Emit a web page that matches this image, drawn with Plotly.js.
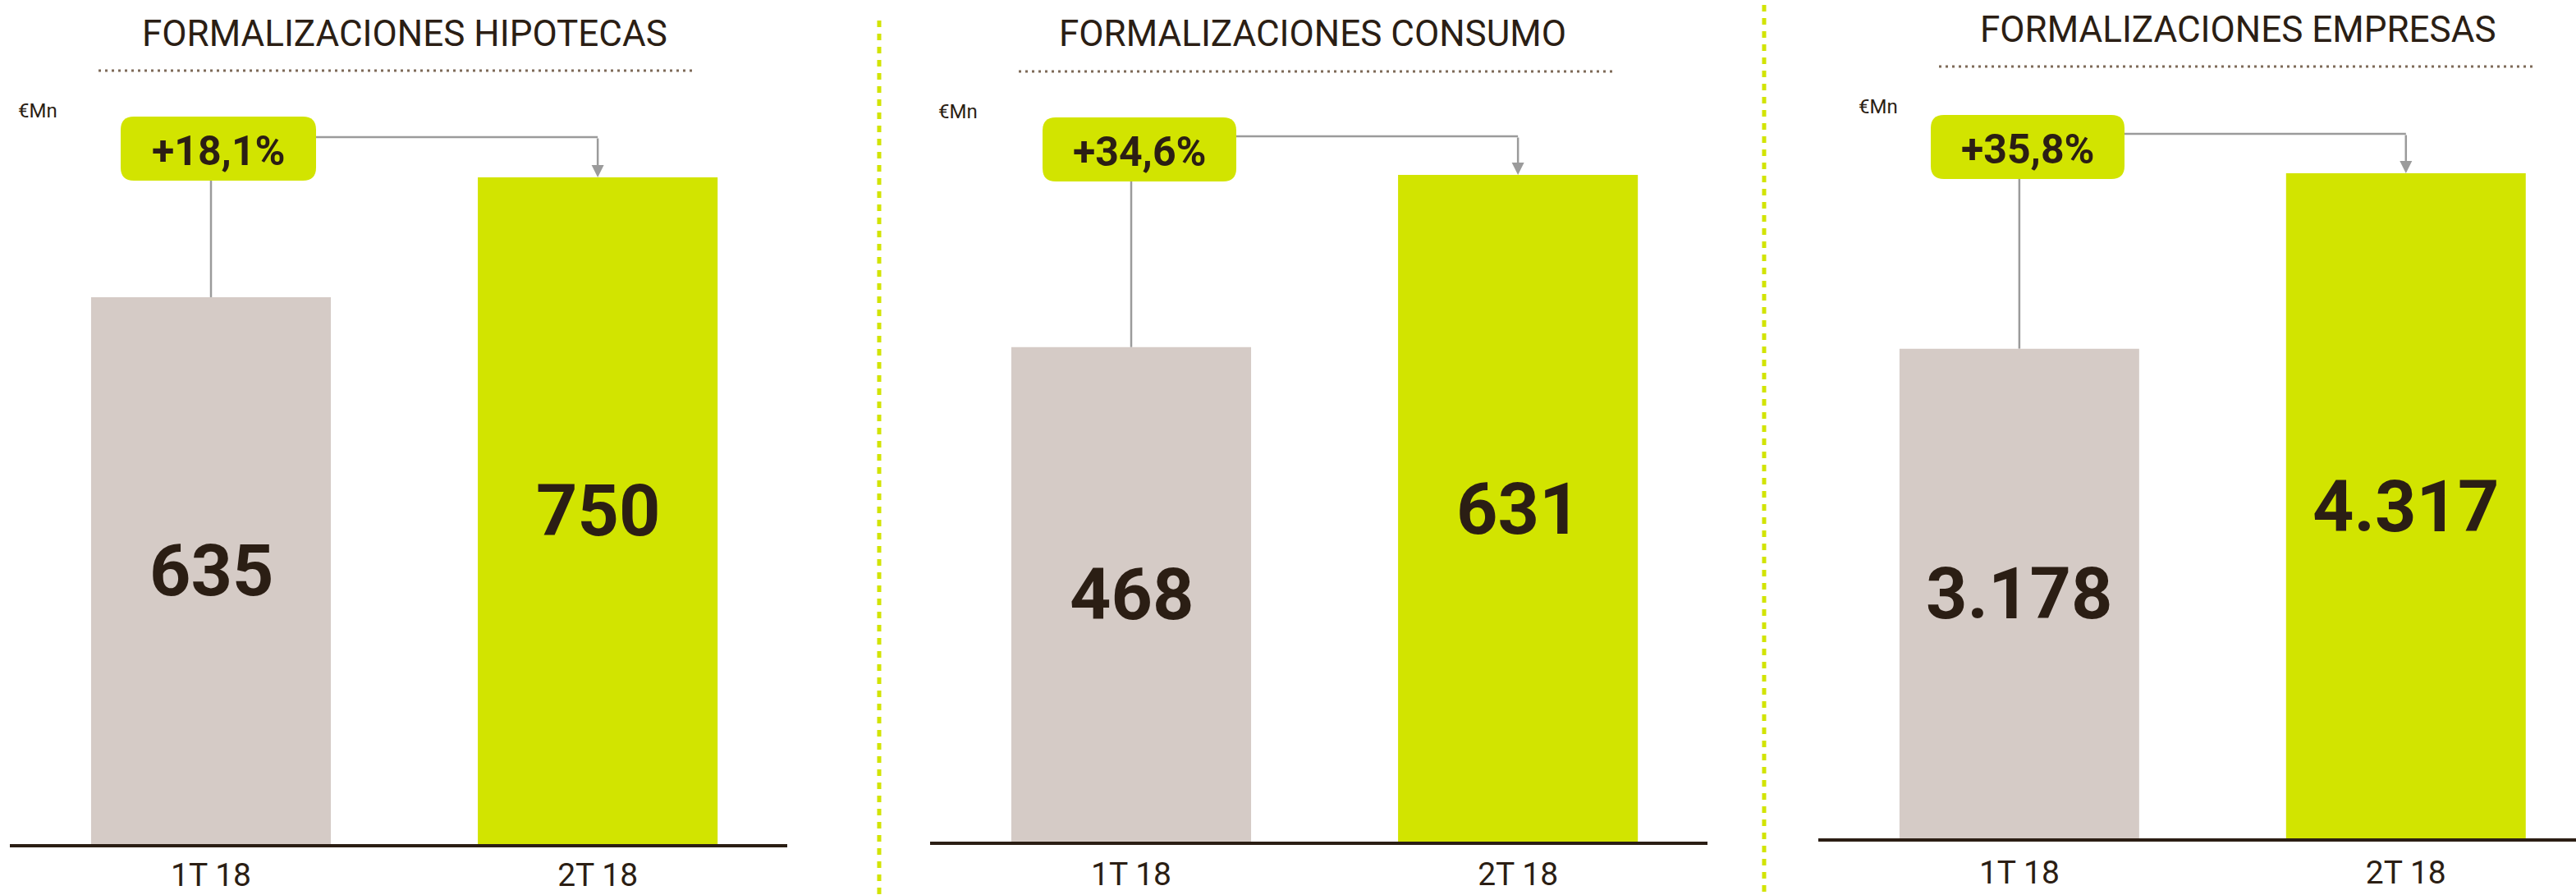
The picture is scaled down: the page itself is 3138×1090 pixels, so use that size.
<!DOCTYPE html>
<html>
<head>
<meta charset="utf-8">
<script src="https://cdn.plot.ly/plotly-3.0.1.min.js"></script>
<style>html,body{margin:0;padding:0;background:#fff;}#chart{width:3138px;height:1090px;}</style>
</head>
<body>
<div id="chart"></div>
<script>
// ---- data ----
const categories = ['1T 18', '2T 18'];
const hipotecas = [635, 750];
const consumo = [468, 631];
const empresas = [3178, 4317];
const titles = ['FORMALIZACIONES HIPOTECAS', 'FORMALIZACIONES CONSUMO', 'FORMALIZACIONES EMPRESAS'];
const growthLabels = ['+18,1%', '+34,6%', '+35,8%'];
const unitLabel = '€Mn';

// ---- styling / geometry ----
const W = 3138, H = 1090;
const INK = '#2B1E14';
const GREY_BAR = '#D5CBC6';
const GREEN = '#D2E400';
const CONN = '#9B9B9B';
const FONT = 'Roboto, "Open Sans", sans-serif';
const px = x => x / W;
const py = y => 1 - y / H;

const series = [hipotecas, consumo, empresas];
const geom = [
  {xd: [12, 959], xr: [-0.52, 1.49], base: 1028, yr: [110.4, 920.1], title: [493, 41], dots: [120, 847, 86], unit: [46, 135], box: [147, 142, 385, 220], hline: 167, standoff: 0},
  {xd: [1133, 2080], xr: [-0.52, 1.49], base: 1025, yr: [0, 796.6], title: [1599, 41], dots: [1241, 1969, 87], unit: [1167, 136], box: [1270, 143, 1506, 221], hline: 166, standoff: 2},
  {xd: [2215, 3138], xr: [-0.52, 1.44], base: 1021, yr: [0, 5441.5], title: [2726, 36], dots: [2362, 3089, 81], unit: [2288, 130], box: [2352, 140, 2588, 218], hline: 163, standoff: 4}
];

function fmt(v) {
  return String(v).replace(/\B(?=(\d{3})+(?!\d))/g, '.');
}

const data = [];
const shapes = [];
const annotations = [];
const layout = {
  width: W, height: H,
  margin: {l: 0, r: 0, t: 0, b: 0},
  paper_bgcolor: '#ffffff', plot_bgcolor: 'rgba(0,0,0,0)',
  showlegend: false,
  font: {family: FONT, color: INK}
};

geom.forEach((g, i) => {
  const n = i === 0 ? '' : String(i + 1);
  const xa = 'x' + n, ya = 'y' + n;
  const vals = series[i];
  const yFromPx = p => g.yr[0] + (g.base - p) * (g.yr[1] - g.yr[0]) / g.base;
  const ppu = (g.xd[1] - g.xd[0]) / (g.xr[1] - g.xr[0]);
  const xFromPx = p => g.xr[0] + (p - g.xd[0]) / ppu;

  data.push({
    type: 'bar', x: categories, y: vals, xaxis: xa, yaxis: ya,
    marker: {color: [GREY_BAR, GREEN], line: {width: 0}},
    width: 0.62, hoverinfo: 'skip'
  });

  layout['xaxis' + n] = {
    domain: [px(g.xd[0]), px(g.xd[1])], anchor: ya,
    type: 'category', range: g.xr, fixedrange: true,
    showline: true, linecolor: INK, linewidth: 4,
    showgrid: false, zeroline: false, ticks: '',
    tickfont: {family: FONT, size: 39, color: INK},
    ticklabelstandoff: g.standoff
  };
  layout['yaxis' + n] = {
    domain: [(H - g.base) / H, 1], anchor: xa,
    range: g.yr, visible: false, fixedrange: true
  };

  // value labels centred in the visible part of each bar
  vals.forEach((v, k) => {
    annotations.push({
      xref: xa, yref: ya, x: k, y: (Math.max(g.yr[0], 0) + v) / 2,
      text: '<b>' + fmt(v) + '</b>', showarrow: false,
      xanchor: 'center', yanchor: 'middle',
      font: {family: FONT, size: 88, color: INK}
    });
  });

  // panel title
  annotations.push({
    xref: 'paper', yref: 'paper', x: px(g.title[0]), y: py(g.title[1]),
    text: titles[i], showarrow: false, xanchor: 'center', yanchor: 'middle',
    font: {family: FONT, size: 44, color: INK}
  });
  // dotted underline
  shapes.push({
    type: 'line', xref: 'paper', yref: 'paper',
    x0: px(g.dots[0]), x1: px(g.dots[1]), y0: py(g.dots[2]), y1: py(g.dots[2]),
    line: {color: '#7E6A58', width: 3, dash: '3px,5px'}
  });
  // unit
  annotations.push({
    xref: 'paper', yref: 'paper', x: px(g.unit[0]), y: py(g.unit[1]),
    text: unitLabel, showarrow: false, xanchor: 'center', yanchor: 'middle',
    font: {family: FONT, size: 24, color: INK}
  });

  // growth box (rounded)
  const [bx0, by0, bx1, by1] = g.box;
  const r = 16;
  const P = (x, y) => px(x) + ',' + py(y);
  const path = 'M' + P(bx0 + r, by0) + ' L' + P(bx1 - r, by0) + ' Q' + P(bx1, by0) + ' ' + P(bx1, by0 + r) +
    ' L' + P(bx1, by1 - r) + ' Q' + P(bx1, by1) + ' ' + P(bx1 - r, by1) +
    ' L' + P(bx0 + r, by1) + ' Q' + P(bx0, by1) + ' ' + P(bx0, by1 - r) +
    ' L' + P(bx0, by0 + r) + ' Q' + P(bx0, by0) + ' ' + P(bx0 + r, by0) + ' Z';
  shapes.push({type: 'path', xref: 'paper', yref: 'paper', path: path,
    fillcolor: GREEN, line: {width: 0}, layer: 'above'});
  annotations.push({
    xref: 'paper', yref: 'paper', x: px((bx0 + bx1) / 2), y: py((by0 + by1) / 2 + 3),
    text: '<b>' + growthLabels[i] + '</b>', showarrow: false, xanchor: 'center', yanchor: 'middle',
    font: {family: FONT, size: 50, color: INK}
  });

  // connector: box bottom -> first bar top
  shapes.push({type: 'line', xref: xa, yref: ya, x0: 0, x1: 0,
    y0: yFromPx(by1), y1: vals[0], line: {color: CONN, width: 2.5}, layer: 'below'});
  // connector: box right -> above second bar
  shapes.push({type: 'line', xref: xa, yref: ya, x0: xFromPx(bx1), x1: 1,
    y0: yFromPx(g.hline), y1: yFromPx(g.hline), line: {color: CONN, width: 2.5}});
  // arrow down to second bar
  annotations.push({
    xref: xa, yref: ya, x: 1, y: vals[1],
    axref: xa, ayref: ya, ax: 1, ay: yFromPx(g.hline),
    text: '', showarrow: true, arrowhead: 2, arrowsize: 1.2, arrowwidth: 2.5,
    arrowcolor: CONN, standoff: 0, startstandoff: 0
  });
});

// green dashed vertical dividers
[[1071, 25], [2149, 6]].forEach(d => {
  shapes.push({type: 'line', xref: 'paper', yref: 'paper',
    x0: px(d[0]), x1: px(d[0]), y0: py(d[1]), y1: 0,
    line: {color: GREEN, width: 5, dash: '8px,8px'}});
});

layout.shapes = shapes;
layout.annotations = annotations;

Plotly.newPlot('chart', data, layout, {displayModeBar: false, staticPlot: true});
</script>
</body>
</html>
